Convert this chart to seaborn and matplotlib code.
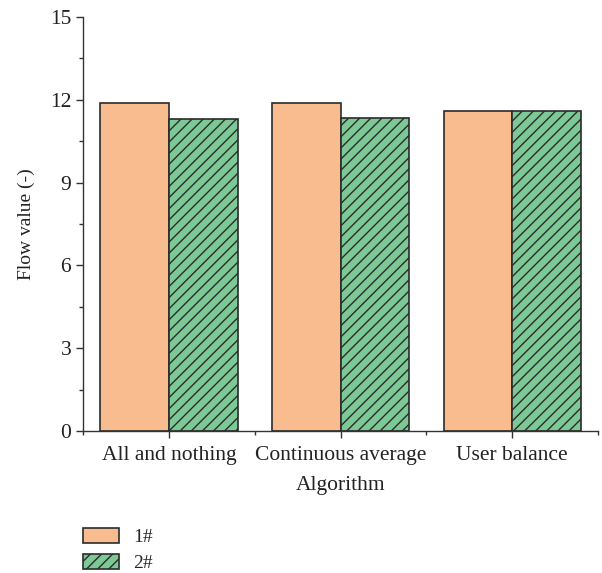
import matplotlib
matplotlib.use("Agg")
import matplotlib.pyplot as plt
from matplotlib.ticker import MultipleLocator, FixedLocator
import seaborn as sns
import pandas as pd

algorithms = ["All and nothing", "Continuous average", "User balance"]
series_names = ["1#", "2#"]
flow_1 = [11.87, 11.89, 11.59]
flow_2 = [11.32, 11.33, 11.59]

df = pd.DataFrame({
    "Algorithm": algorithms * 2,
    "Series": [series_names[0]] * 3 + [series_names[1]] * 3,
    "Flow": flow_1 + flow_2,
})

sns.set_style("ticks")
plt.rcParams["font.family"] = ["Liberation Serif", "DejaVu Serif"]
plt.rcParams["hatch.linewidth"] = 1.0

fig = plt.figure(figsize=(6.02, 5.73), dpi=100)
ax = fig.add_axes([0.1379, 0.2478, 0.8555, 0.7225])

colors = ["#F9BC8E", "#7CC996"]
sns.barplot(data=df, x="Algorithm", y="Flow", hue="Series",
            palette=colors, width=0.8, edgecolor="#2b2b2b",
            linewidth=1.2, ax=ax, legend=False, saturation=1)

for patch in ax.containers[1]:
    patch.set_hatch("///")

fs = 15.5
ax.set_xlim(-0.5, 2.5)
ax.set_ylim(0, 15)
ax.yaxis.set_major_locator(MultipleLocator(3))
ax.yaxis.set_minor_locator(MultipleLocator(1.5))
ax.xaxis.set_minor_locator(FixedLocator([-0.5, 0.5, 1.5, 2.5]))
ax.tick_params(axis="both", which="major", direction="out", length=5,
               width=1, labelsize=fs, color="#333333", labelcolor="#222222")
ax.tick_params(axis="x", which="major", pad=6)
ax.tick_params(axis="both", which="minor", direction="out", length=3,
               width=1, color="#333333")
ax.set_xlabel("Algorithm", fontsize=fs, color="#222222", labelpad=8)
ax.set_ylabel("Flow value (-)", fontsize=14, color="#222222", labelpad=11)
for side in ["top", "right"]:
    ax.spines[side].set_visible(False)
for side in ["left", "bottom"]:
    ax.spines[side].set_color("#333333")
    ax.spines[side].set_linewidth(1.0)

handles = [ax.containers[0].patches[0], ax.containers[1].patches[0]]
fig.legend(handles, series_names, loc="upper left",
           bbox_to_anchor=(0.125, 0.092), frameon=False, fontsize=14,
           handlelength=1.85, handleheight=0.77, labelspacing=0.42,
           handletextpad=0.75, borderaxespad=0)

fig.savefig("out.png", dpi=100)
